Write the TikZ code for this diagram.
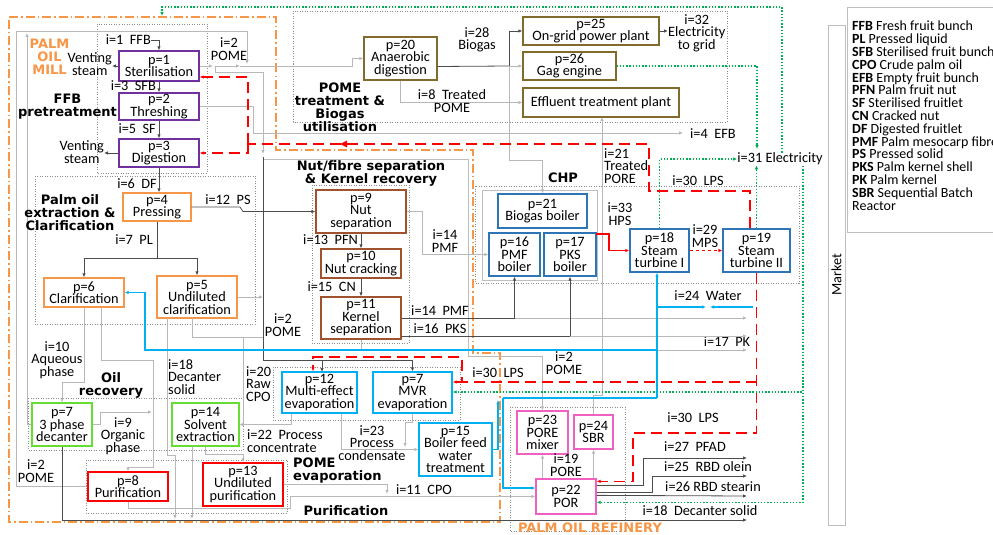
\documentclass[tikz,border=0pt]{standalone}
\usepackage{fontspec}
\setmainfont{Carlito}
\newfontfamily\headfam{DejaVu Sans}
\usetikzlibrary{arrows.meta}
\definecolor{cpur}{HTML}{7030A0}
\definecolor{cora}{HTML}{F79646}
\definecolor{cgrn}{HTML}{66DD33}
\definecolor{cred}{HTML}{FF0000}
\definecolor{ccya}{HTML}{00B0F0}
\definecolor{cbrn}{HTML}{A0522D}
\definecolor{coli}{HTML}{806A2C}
\definecolor{cblu}{HTML}{2E75B6}
\definecolor{cmag}{HTML}{F060C0}
\definecolor{celec}{HTML}{00B050}
\newcommand\bxfont{\fontsize{14.3}{12.5}\selectfont}
\newcommand\hdfont{\headfam\bfseries\fontsize{13}{13}\selectfont}
\newcommand\mkbox[7]{\node[bx,#2,minimum width={(#5)-(#3)},minimum height={(#6)-(#4)}] (#1) at ({((#3)+(#5))/2},{((#4)+(#6))/2}) {#7};}
\begin{document}
\begin{tikzpicture}[x=1pt,y=-1pt,
  bx/.style={draw,line width=1.3pt,fill=white,align=center,inner sep=0pt,font=\bxfont},
  lbl/.style={font=\bxfont,align=center,inner sep=0pt},
  hd/.style={font=\hdfont,align=center,inner sep=0pt},
  grp/.style={draw=black!45,line width=0.5pt,dash pattern=on 1pt off 1.5pt},
  frm/.style={draw=black!25,line width=0.8pt},
  dk/.style={draw=black!70,line width=0.8pt},
  lt/.style={draw=black!28,line width=0.8pt},
  arr/.style={-{Latex[length=4pt,width=3.5pt]}},
  lps/.style={draw=red,line width=1.3pt,dash pattern=on 11pt off 6pt},
  elec/.style={draw=celec,line width=1.2pt,dash pattern=on 1.4pt off 1.8pt},
  wat/.style={draw=ccya,line width=1.2pt}]
\useasboundingbox (0,0) rectangle (993,535);
% group boxes
\draw[grp] (97,24) rectangle (207,173);
\draw[grp] (35,176) rectangle (255,324);
\draw[grp] (312,185) rectangle (409,343);
\draw[grp] (28,398) rectangle (243,450);
\draw[grp] (86,460) rectangle (287,513);
\draw[grp] (273,367) rectangle (460,420);
\draw[grp] (293,11) rectangle (727,122);
\draw[grp] (475,186) rectangle (799,283);
\draw[grp] (510,407) rectangle (625,531);
\draw[frm] (263,159) -- (468,159) -- (468,350);
\draw[frm] (482,190) rectangle (597,280);
\draw[frm] (828,25) rectangle (845,525);
\draw[frm] (847,7) rectangle (1000,232);
% palm oil mill frame
\draw[cora,line width=1.3pt,dash pattern=on 9pt off 3pt on 1.5pt off 3pt] (9,17) -| (276,150) -| (473,353) -| (500,522) -- (9,522) -- cycle;
% boxes
\mkbox{p1}{draw=cpur}{119}{51}{199}{81}{p=1\\Sterilisation}
\mkbox{p2}{draw=cpur}{119}{93}{199}{120}{p=2\\Threshing}
\mkbox{p3}{draw=cpur}{119}{139}{199}{167}{p=3\\Digestion}
\mkbox{p4}{draw=cora}{123}{193}{191}{221}{p=4\\Pressing}
\mkbox{p6}{draw=cora}{44}{278}{124}{307}{p=6\\Clarification}
\mkbox{p5}{draw=cora}{157}{276}{237}{318}{p=5\\Undiluted\\clarification}
\mkbox{p7}{draw=cgrn}{32}{403}{92}{446}{p=7\\3 phase\\decanter}
\mkbox{p14}{draw=cgrn}{172}{403}{239}{446}{p=14\\Solvent\\extraction}
\mkbox{p8}{draw=cred}{88}{472}{168}{501}{p=8\\Purification}
\mkbox{p13}{draw=cred}{203}{463}{283}{506}{p=13\\Undiluted\\purification}
\mkbox{p12}{draw=ccya}{282}{372}{357}{413}{p=12\\Multi-effect\\evaporation}
\mkbox{p7m}{draw=ccya}{373}{372}{452}{413}{p=7\\MVR\\evaporation}
\mkbox{p15}{draw=ccya}{419}{423}{492}{476}{p=15\\Boiler feed\\water\\treatment}
\mkbox{p9}{draw=cbrn}{316}{190}{406}{233}{p=9\\Nut\\separation}
\mkbox{p10}{draw=cbrn}{321}{249}{401}{278}{p=10\\Nut cracking}
\mkbox{p11}{draw=cbrn}{321}{297}{401}{339}{p=11\\Kernel\\separation}
\mkbox{p20}{draw=coli}{364}{37}{437}{80}{p=20\\Anaerobic\\digestion}
\mkbox{p25}{draw=coli}{523}{17}{659}{45}{p=25\\On-grid power plant}
\mkbox{p26}{draw=coli}{523}{52}{616}{80}{p=26\\Gag engine}
\mkbox{etp}{draw=coli}{523}{88}{679}{117}{Effluent treatment plant}
\mkbox{p21}{draw=cblu}{498}{194}{587}{228}{p=21\\Biogas boiler}
\mkbox{p16}{draw=cblu}{489}{233}{540}{276}{p=16\\PMF\\boiler}
\mkbox{p17}{draw=cblu}{544}{233}{596}{276}{p=17\\PKS\\boiler}
\mkbox{p18}{draw=cblu}{630}{229}{689}{272}{p=18\\Steam\\turbine I}
\mkbox{p19}{draw=cblu}{723}{229}{790}{272}{p=19\\Steam\\turbine II}
\mkbox{p23}{draw=cmag}{517}{411}{568}{454}{p=23\\PORE\\mixer}
\mkbox{p24}{draw=cmag}{574}{415}{613}{449}{p=24\\SBR}
\mkbox{p22}{draw=cmag}{536}{479}{596}{514}{p=22\\POR}
% helper coordinates
\coordinate (y318) at (0,318);
\coordinate (y336) at (0,336);
\coordinate (y382) at (0,382);
\coordinate (y392) at (0,392);
% FFB pretreatment flows
\node[lbl,anchor=east] (l1) at (151,40) {i=1\ \ FFB};
\draw[dk,arr] (l1.east) -| (p1.north);
\node[lbl,anchor=east] (vs1) at (112,64) {Venting\\steam};
\draw[dk,arr] (p1.west) -- (p1.west -| vs1.east);
\node[lbl,anchor=east] (vs2) at (104,152) {Venting\\steam};
\draw[dk,arr] (p3.west) -- (p3.west -| vs2.east);
\draw[dk,arr] (p1) -- (p2);
\node[lbl,anchor=east] at (156,86) {i=3\ \ SFB};
\draw[dk,arr] (p2) -- (p3);
\node[lbl,anchor=east] at (156,129) {i=5\ \ SF};
\draw[dk,arr] (p3.south) -- (p3.south |- p4.north);
\node[lbl,anchor=east] at (157,184) {i=6\ \ DF};
% extraction
\coordinate (j7) at (157,258);
\draw[dk] (p4.south) -- (j7);
\draw[dk,arr] (j7) -| (p6.north);
\draw[dk,arr] (j7) -| (p5.north);
\node[lbl,anchor=east] at (153,240) {i=7\ \ PL};
\draw[dk,arr] (p4.east) -- (240,207) -- (243,211.5) -- (p9.west);
\node[lbl] at (228,200) {i=12\ \ PS};
% POME
\draw[lt,arr] (p1.east) -- (213,66);
\draw[lt,arr] (215,66) -- (240,66);
\draw[lt,arr] (240,66) -- (352,66) |- (p20.west);
\node[lbl] at (229,49) {i=2\\POME};
\draw[lt,arr] (p8.west) -| (16,31) -| (247,64);
\draw[lt,arr] (p7.west) -| (27,33);
\node[lbl] at (36,471) {i=2\\POME};
\draw[lt,arr] (215,66) |- (263,72) -- (263,154);
\draw[dk,arr] (263,157) |- (412.5,360) -- (p7m.north);
\draw[dk,arr] (322,360) -- (322,372);
\node[lbl] at (283,325) {i=2\\POME};
\draw[lt,arr] (p5.east) -- (263,297);
\draw[lt] (192,318) |- (263,337);
\draw[lt,arr] (167,318) |- (175,455) -- (175,519);
\draw[lt,arr] (192,446) -- (192,519);
\draw[lt,arr] (p14.south) |- (243,454) -- (p13.north);
\draw[lt,arr] (243,337) |- (p14.east);
\node[lbl,anchor=west,align=left] at (246,384) {i=20\\Raw\\CPO};
\draw[lt,arr] ([xshift=10pt]p12.south west) |- (p14.east);
\node[lbl,anchor=west,align=left] at (247,441) {i=22\ \ Process\\concentrate};
\draw[lt,arr] ([xshift=60pt]p12.south west) |- (p15.west);
\draw[lt,arr] (p7m.south) |- (405,422) -- (405,447);
\node[lbl] at (372,443) {i=23\\Process\\condensate};
\draw[lt,arr] (p8.south) |- (290,508) |- (p22.west);
\draw[lt,arr] (p13.east) -| (387,494);
\node[lbl] at (424,490) {i=11\ \ CPO};
\draw[dk,arr] (p7.south) |- (747,520);
\node[lbl] at (700,511) {i=18\ \ Decanter solid};
\draw[lt,arr] (p6.south) -- (84,382) -| (p7.north);
\node[lbl] at (57,360) {i=10\\Aqueous\\phase};
\draw[lt,arr] (101,307) |- (153,360) |- (128,467) -- (p8.north);
\draw[lt,arr] (p7.east) -- (100,424.5) |- (152,412);
\node[lbl] at (123,436) {i=9\\Organic\\phase};
\node[lbl,anchor=west,align=left] at (168,377) {i=18\\Decanter\\solid};
\draw[lt,arr] (p2.east) -- (253,106.5) |- (683,133);
\node[lbl,anchor=west] at (690,134) {i=4\ \ EFB};
% nut / fibre
\draw[dk,arr] (p9) -- (p10);
\node[lbl,anchor=east] at (358,240) {i=13\ \ PFN};
\draw[dk,arr] (p10) -- (p11);
\node[lbl,anchor=east] at (356,287) {i=15\ \ CN};
\draw[lt,arr] (p9.east) -- (422,211.5) |- (p16.west);
\node[lbl] at (445,241) {i=14\\PMF};
\draw[lt,arr] (p11.south) |- (747,350);
\node[lbl] at (727,342) {i=17\ \ PK};
\draw[dk,arr] (p11.east |- y318) -| (p16.south);
\draw[lt,arr] (514.5,318) -- (747,318);
\node[lbl] at (440,311) {i=14\ \ PMF};
\draw[dk,arr] (p11.east |- y336) -| (p17.south);
\draw[lt,arr] (570,336) -- (747,336);
\node[lbl] at (440,329) {i=16\ \ PKS};
% biogas
\coordinate (bj) at (509,66);
\draw[dk] ([yshift=-8pt]p20.east) -- (bj);
\draw[dk,arr] (bj) |- (p25.west);
\draw[lt,arr] (bj) -- (p26.west);
\draw[lt,arr] (bj) |- (542.5,160) -- (p21.north);
\node[lbl] at (477,40) {i=28\\Biogas};
\draw[lt,arr] (p20.south) |- (etp.west);
\node[lbl] at (452,101) {i=8\ \ Treated\\POME};
\node[lbl,anchor=west] (e32) at (668,33) {i=32\\Electricity\\to grid};
\draw[dk,arr] (p25.east) -- (e32.west |- p25.east);
\draw[lt,arr] (p24.north) |- (602,395) -- (602,117);
\node[lbl,anchor=west,align=left] at (604,166) {i=21\\Treated\\PORE};
\draw[lt,arr] (468,350) |- (542.5,356) -- (p23.north);
\node[lbl] at (564,363) {i=2\\POME};
\draw[lt,arr] (p22.north -| p23.south) -- (p23.south);
\draw[lt,arr] (p22.north -| p24.south) -- (p24.south);
\node[lbl] at (566,465) {i=19\\PORE};
% steam
\draw[red,line width=1.2pt,arr] (596,234) -- (609,234) -- (609,250.5) -- (p18.west);
\node[lbl] at (620,214) {i=33\\HPS};
\draw[red,line width=1.2pt,dash pattern=on 3pt off 3pt,arr] (p18.east) -- (p19.west);
\node[lbl] at (705,236) {i=29\\MPS};
\coordinate (r1) at (248,144);
\draw[lps] ([xshift=-6.5pt]p19.north) |- (649,191) |- (r1);
\fill[red] (340,144) -- (347,140.5) -- (347,147.5) -- cycle;
\draw[lps,arr] (r1) |- ([yshift=-11pt]p1.east);
\draw[lps,arr] (r1) |- (p3.east);
\node[lbl] at (698,181) {i=30\ \ LPS};
\draw[lps,arr] (p19.south) |- (633,433) |- ([yshift=-3pt]p22.north east);
\draw[lps,arr] (756.5,382) -| (462,357) -| ([xshift=-6.5pt]p12.north);
\draw[lps,arr] (462,382) -- (p7m.east |- y382);
\node[lbl] at (498,373) {i=30\ \ LPS};
\node[lbl] at (693,418) {i=30\ \ LPS};
% electricity
\node[lbl] (e31) at (780,159) {i=31 Electricity};
\draw[elec,arr] (p26.east) -| (757,149);
\draw[elec,arr] (p18.north) |- (e31.west);
\draw[elec,arr] (p19.north) -- (p19.north |- e31.south);
\draw[elec,arr] ([xshift=2pt]e31.north) |- (162,7) -- (162,16);
\draw[elec,arr] (803,166) |- (p7m.east |- y392);
\draw[elec,arr] (803,380) |- ([yshift=-24pt]p22.north east);
% water
\draw[wat,arr] (753,307) -- (710,307);
\draw[wat,arr] (657,307) -- (706,307);
\draw[wat,arr] (657,398) -- ([xshift=-2.5pt]p18.south);
\draw[wat,arr] (657,350) -| (145,292.5) -- (p6.east);
\draw[wat,arr] (p15.east) -| (498,400);
\draw[wat] (503,398) -- (657,398);
\draw[wat,arr] (503,398) |- ([yshift=8.5pt]p22.west);
\node[lbl] at (708,296) {i=24\ \ Water};
% refinery outputs
\draw[dk,arr] ([yshift=-7pt]p22.north east) -| (643,458) -- (747,458);
\draw[dk,arr] ([yshift=-14pt]p22.north east) -| (652,476) -- (747,476);
\draw[dk,arr] ([yshift=-17pt]p22.north east) -- (747,496);
\node[lbl] at (695,447) {i=27\ \ PFAD};
\node[lbl] at (708,467) {i=25\ \ RBD olein};
\node[lbl] at (713,487) {i=26 RBD stearin};
% headings
\node[hd,text=cora] at (49.5,57) {PALM\\OIL\\MILL};
\node[hd,text=cora] at (590,528) {PALM OIL REFINERY};
\node[hd] at (67.5,106.5) {FFB\\pretreatment};
\node[hd] at (70,213) {Palm oil\\extraction \&\\Clarification};
\node[hd] at (340,107.5) {POME\\treatment \&\\Biogas\\utilisation};
\node[hd] at (371,173) {Nut/fibre separation\\\& Kernel recovery};
\node[hd] at (563,178) {CHP};
\node[hd] at (111,385) {Oil\\recovery};
\node[hd,anchor=west,align=left] at (293,470.5) {POME\\evaporation};
\node[hd] at (346,511) {Purification};
% market and legend
\node[lbl,rotate=90] at (836.5,275) {Market};
\node[anchor=north west,align=left,inner sep=0pt,font=\fontsize{14}{12.8}\selectfont] at (852,21) {\textbf{FFB} Fresh fruit bunch\\\textbf{PL} Pressed liquid\\\textbf{SFB} Sterilised fruit bunch\\\textbf{CPO} Crude palm oil\\\textbf{EFB} Empty fruit bunch\\\textbf{PFN} Palm fruit nut\\\textbf{SF} Sterilised fruitlet\\\textbf{CN} Cracked nut\\\textbf{DF} Digested fruitlet\\\textbf{PMF} Palm mesocarp fibre\\\textbf{PS} Pressed solid\\\textbf{PKS} Palm kernel shell\\\textbf{PK} Palm kernel\\\textbf{SBR} Sequential Batch\\Reactor};
\end{tikzpicture}
\end{document}
